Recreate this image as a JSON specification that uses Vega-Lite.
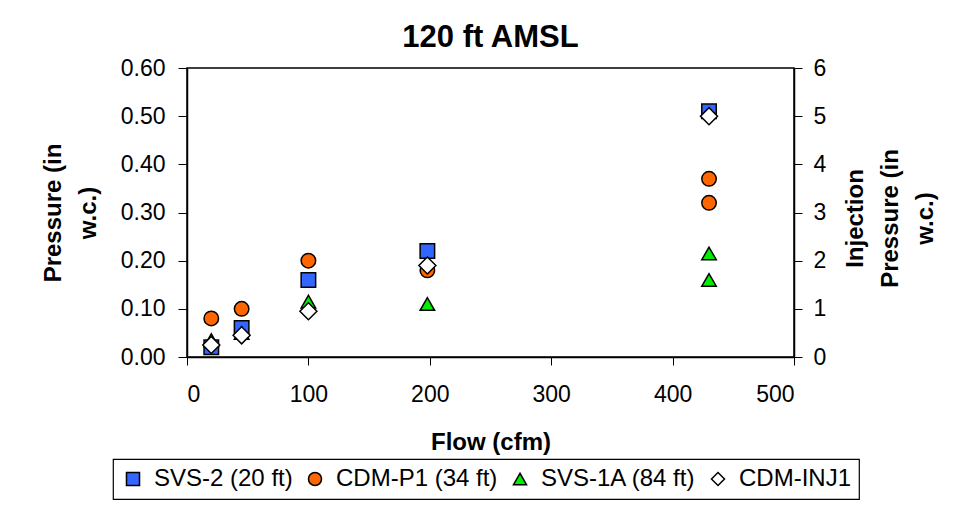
{
  "$schema": "https://vega.github.io/schema/vega-lite/v6.json",
  "autosize": {"type": "none"},
  "width": 607,
  "height": 289,
  "padding": {"left": 187, "top": 68, "right": 162, "bottom": 151},
  "background": "white",
  "title": {"text": "120 ft AMSL", "font": "Liberation Sans", "fontSize": 31, "fontWeight": "bold", "color": "black", "anchor": "middle", "offset": 3},
  "config": {
    "font": "Liberation Sans",
    "view": {"stroke": "black", "strokeWidth": 1.5},
    "axis": {"grid": false, "domainColor": "black", "domainWidth": 1.5, "tickColor": "black", "tickWidth": 1, "labelColor": "black", "labelFontSize": 23, "labelFont": "Liberation Sans", "titleFont": "Liberation Sans", "titleFontSize": 24, "titleFontWeight": "bold", "titleColor": "black", "titleLineHeight": 35},
    "legend": {"orient": "none", "legendX": -74, "legendY": 391, "direction": "horizontal", "strokeColor": "black", "strokeWidth": 1.2, "padding": 8, "labelFontSize": 24, "labelLimit": 0, "labelColor": "black", "labelFont": "Liberation Sans", "symbolSize": 170, "symbolStrokeColor": "black", "symbolStrokeWidth": 1.5, "columnPadding": 10, "labelOffset": 9, "symbolOpacity": 1}
  },
  "data": {"values": [
    {"flow": 20, "series": "SVS-2 (20 ft)", "value": 0.02},
    {"flow": 45, "series": "SVS-2 (20 ft)", "value": 0.06},
    {"flow": 100, "series": "SVS-2 (20 ft)", "value": 0.16},
    {"flow": 198, "series": "SVS-2 (20 ft)", "value": 0.22},
    {"flow": 430, "series": "SVS-2 (20 ft)", "value": 0.51},
    {"flow": 20, "series": "CDM-P1 (34 ft)", "value": 0.08},
    {"flow": 45, "series": "CDM-P1 (34 ft)", "value": 0.10},
    {"flow": 100, "series": "CDM-P1 (34 ft)", "value": 0.20},
    {"flow": 198, "series": "CDM-P1 (34 ft)", "value": 0.18},
    {"flow": 430, "series": "CDM-P1 (34 ft)", "value": 0.37},
    {"flow": 430, "series": "CDM-P1 (34 ft)", "value": 0.32},
    {"flow": 20, "series": "SVS-1A (84 ft)", "value": 0.035},
    {"flow": 45, "series": "SVS-1A (84 ft)", "value": 0.05},
    {"flow": 100, "series": "SVS-1A (84 ft)", "value": 0.115},
    {"flow": 198, "series": "SVS-1A (84 ft)", "value": 0.11},
    {"flow": 430, "series": "SVS-1A (84 ft)", "value": 0.215},
    {"flow": 430, "series": "SVS-1A (84 ft)", "value": 0.16},
    {"flow": 20, "series": "CDM-INJ1", "value": 0.25},
    {"flow": 45, "series": "CDM-INJ1", "value": 0.45},
    {"flow": 100, "series": "CDM-INJ1", "value": 0.95},
    {"flow": 198, "series": "CDM-INJ1", "value": 1.9},
    {"flow": 430, "series": "CDM-INJ1", "value": 5.0}
  ]},
  "layer": [
    {
      "transform": [{"filter": "datum.series !== 'CDM-INJ1'"}],
      "mark": {"type": "point", "filled": true, "stroke": "black", "strokeWidth": 1.5, "opacity": 1, "size": 210},
      "encoding": {
        "x": {"field": "flow", "type": "quantitative", "scale": {"domain": [0, 500], "nice": false}, "axis": {"values": [0, 100, 200, 300, 400, 500], "tickSize": 8, "labelPadding": 18, "title": "Flow (cfm)", "titlePadding": 24}},
        "y": {"field": "value", "type": "quantitative", "scale": {"domain": [0, 0.6], "nice": false}, "axis": {"values": [0, 0.1, 0.2, 0.3, 0.4, 0.5, 0.6], "format": ".2f", "tickSize": 9, "labelPadding": 13, "title": ["Pressure (in", "w.c.)"], "titlePadding": 20}},
        "fill": {"field": "series", "type": "nominal", "scale": {"domain": ["SVS-2 (20 ft)", "CDM-P1 (34 ft)", "SVS-1A (84 ft)", "CDM-INJ1"], "range": ["#3366FF", "#FF6600", "#00EE00", "#FFFFFF"]}, "legend": {"title": null, "encode": {"symbols": {"update": {"stroke": {"value": "black"}, "strokeWidth": {"value": 1.5}}}}}},
        "shape": {"field": "series", "type": "nominal", "scale": {"domain": ["SVS-2 (20 ft)", "CDM-P1 (34 ft)", "SVS-1A (84 ft)", "CDM-INJ1"], "range": ["square", "circle", "triangle-up", "diamond"]}, "legend": {"title": null, "encode": {"symbols": {"update": {"stroke": {"value": "black"}, "strokeWidth": {"value": 1.5}}}}}}
      }
    },
    {
      "transform": [{"filter": "datum.series === 'CDM-INJ1'"}],
      "mark": {"type": "point", "filled": true, "stroke": "black", "strokeWidth": 1.5, "opacity": 1, "size": 290},
      "encoding": {
        "x": {"field": "flow", "type": "quantitative"},
        "y": {"field": "value", "type": "quantitative", "scale": {"domain": [0, 6], "nice": false}, "axis": {"orient": "right", "values": [0, 1, 2, 3, 4, 5, 6], "tickSize": 8, "labelPadding": 11, "title": ["Injection", "Pressure (in", "w.c.)"], "titleAngle": -90, "titleBaseline": "top", "titleAlign": "center", "titleX": 49, "titleY": 150}},
        "fill": {"field": "series", "type": "nominal"},
        "shape": {"field": "series", "type": "nominal"}
      }
    }
  ],
  "resolve": {"scale": {"y": "independent"}}
}
